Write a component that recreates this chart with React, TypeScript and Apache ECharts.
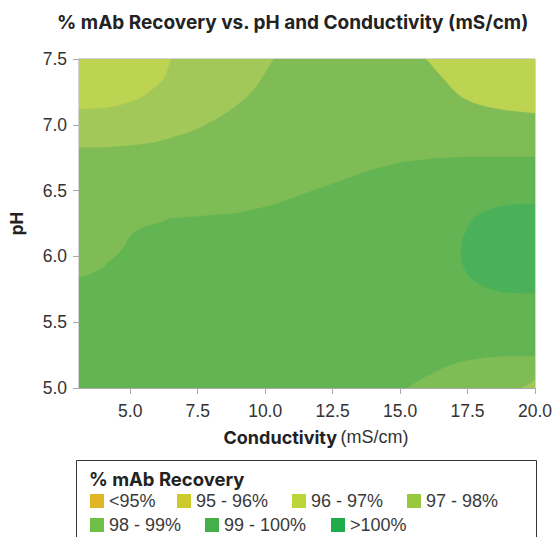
import React, { useEffect, useRef } from "react";
import * as echarts from "echarts";

const titleText = "% mAb Recovery vs. pH and Conductivity (mS/cm)";
const legendTitle = "% mAb Recovery";
const xTicks = [5, 7.5, 10, 12.5, 15, 17.5, 20];
const xMin = 3.1;
const xMax = 20;
const yMin = 5;
const yMax = 7.5;
const yStep = 0.5;

const bandLabels = ["<95%", "95 - 96%", "96 - 97%", "97 - 98%", "98 - 99%", "99 - 100%", ">100%"];
const bandColors = ["#e2b623", "#cdca2b", "#bcd539", "#98c83e", "#6ebf46", "#43b04a", "#21ac4b"];
// fill tones as they appear in the contour plot
const bandFills = ["#e6c45a", "#d2cf55", "#bdd352", "#a3c85a", "#80bc55", "#62b552", "#4bb05a"];

// contour regions in data coordinates [conductivity, pH], painted in order
const regionBase = [[3.1, 5.0], [20, 5.0], [20, 7.5], [3.1, 7.5]];
const regionUpper = [
  [3.1, 5.84], [3.1, 7.5], [20, 7.5], [20, 6.76], [17.55, 6.76], [16.35, 6.75], [15.1, 6.72],
  [13.9, 6.66], [12.7, 6.57], [11.45, 6.48], [10.4, 6.40], [9.6, 6.36], [8.9, 6.33], [7.7, 6.31],
  [6.45, 6.29], [6.1, 6.26], [5.5, 6.23], [5.1, 6.18], [4.9, 6.13], [4.75, 6.07], [4.55, 6.02],
  [4.38, 5.99], [4.2, 5.96], [4.0, 5.92], [3.55, 5.87], [3.1, 5.84],
];
const regionTopBand = [
  [3.1, 6.83], [4.0, 6.83], [5.2, 6.85], [5.9, 6.87], [6.45, 6.9], [7.1, 6.94], [7.67, 6.99],
  [8.3, 7.06], [8.88, 7.14], [9.3, 7.21], [9.65, 7.29], [9.95, 7.38], [10.15, 7.45], [10.3, 7.5],
  [3.1, 7.5],
];
const regionTopLeft = [
  [3.1, 7.12], [4.0, 7.13], [4.6, 7.15], [5.2, 7.19], [5.5, 7.22], [5.75, 7.26], [6.0, 7.3],
  [6.2, 7.34], [6.32, 7.39], [6.42, 7.45], [6.5, 7.5], [3.1, 7.5],
];
const regionTopRight = [
  [15.97, 7.5], [16.15, 7.46], [16.35, 7.41], [16.7, 7.33], [17.0, 7.26], [17.3, 7.21],
  [17.7, 7.17], [18.2, 7.14], [19.0, 7.11], [20, 7.09], [20, 7.5],
];
const regionRightBlob = [
  [20, 6.4], [19.0, 6.39], [18.5, 6.37], [18.1, 6.34], [17.75, 6.29], [17.5, 6.22], [17.32, 6.13],
  [17.25, 6.04], [17.3, 5.95], [17.45, 5.88], [17.7, 5.82], [18.1, 5.77], [18.8, 5.73], [20, 5.72],
];
const regionBottomRight = [
  [15.3, 5.0], [15.5, 5.03], [15.75, 5.06], [16.1, 5.1], [16.6, 5.15], [17.1, 5.19], [17.55, 5.21],
  [18.2, 5.23], [18.8, 5.24], [20, 5.24], [20, 5.0],
];
const regionCorner = [[19.5, 5.0], [19.8, 5.03], [20, 5.06], [20, 5.0]];

const regions = [
  { points: regionBase, band: 5 },
  { points: regionUpper, band: 4 },
  { points: regionTopBand, band: 3 },
  { points: regionTopLeft, band: 2 },
  { points: regionTopRight, band: 2 },
  { points: regionRightBlob, band: 6 },
  { points: regionBottomRight, band: 4 },
  { points: regionCorner, band: 3 },
];

const legendRows = [[0, 1, 2, 3], [4, 5, 6]];
const legendItemX = [[90, 177, 292, 407], [90, 205, 331]];

export default function App() {
  const ref = useRef<HTMLDivElement>(null);
  useEffect(() => {
    if (!ref.current) return;
    const chart = echarts.init(ref.current, null, { renderer: "svg" });
    const axisColor = "#a9a9a9";
    const labelFont = "'Liberation Sans', Arial, sans-serif";
    const boldFont = "Inter, 'Noto Sans', sans-serif";

    const legendGraphics: any[] = [
      {
        type: "rect",
        shape: { x: 76.5, y: 460.5, width: 460, height: 100 },
        style: { fill: "#fff", stroke: "#333", lineWidth: 1 },
      },
      {
        type: "text",
        x: 89,
        y: 479,
        style: {
          text: legendTitle,
          fontFamily: boldFont,
          fontWeight: 700,
          fontSize: 18.5,
          fill: "#222",
          verticalAlign: "middle",
        },
      },
    ];
    legendRows.forEach((row, ri) => {
      const cy = ri === 0 ? 501 : 525;
      row.forEach((bi, ci) => {
        const x = legendItemX[ri][ci];
        legendGraphics.push({
          type: "rect",
          shape: { x, y: cy - 7, width: 14, height: 14 },
          style: { fill: bandColors[bi] },
        });
        legendGraphics.push({
          type: "text",
          x: x + 19,
          y: cy,
          style: {
            text: bandLabels[bi],
            fontFamily: labelFont,
            fontSize: 18,
            fill: "#3a3a3a",
            verticalAlign: "middle",
          },
        });
      });
    });

    chart.setOption({
      animation: false,
      title: {
        text: titleText,
        left: 52,
        top: 8,
        textStyle: { fontFamily: boldFont, fontWeight: 700, fontSize: 19, color: "#222" },
      },
      grid: { left: 75, right: 22, top: 59, bottom: 149, show: true, borderColor: axisColor, borderWidth: 1 },
      xAxis: {
        type: "value",
        min: xMin,
        max: xMax,
        name: "{b|Conductivity} {n|(mS/cm)}",
        nameLocation: "middle",
        nameGap: 40,
        nameTextStyle: {
          padding: [0, 0, 0, 18],
          rich: {
            b: { fontFamily: boldFont, fontWeight: 700, fontSize: 18, color: "#222" },
            n: { fontFamily: labelFont, fontSize: 18, color: "#333" },
          },
        },
        axisLine: { show: true, lineStyle: { color: axisColor } },
        axisTick: { show: true, length: 6, lineStyle: { color: axisColor }, customValues: xTicks },
        axisLabel: {
          customValues: xTicks,
          formatter: (v: number) => v.toFixed(1),
          fontFamily: labelFont,
          fontSize: 17.5,
          color: "#333",
          margin: 14,
        },
        splitLine: { show: false },
      },
      yAxis: {
        type: "value",
        min: yMin,
        max: yMax,
        interval: yStep,
        name: "pH",
        nameLocation: "middle",
        nameGap: 54,
        nameTextStyle: { fontFamily: boldFont, fontWeight: 700, fontSize: 17, color: "#222" },
        axisLine: { show: true, lineStyle: { color: axisColor } },
        axisTick: { show: true, length: 6, lineStyle: { color: axisColor } },
        axisLabel: {
          formatter: (v: number) => v.toFixed(1),
          fontFamily: labelFont,
          fontSize: 17.5,
          color: "#333",
          margin: 12,
        },
        splitLine: { show: false },
      },
      series: [
        {
          type: "custom",
          clip: true,
          data: regions.map((r) => r.points[0]),
          renderItem: (params: any, api: any) => {
            const r = regions[params.dataIndex];
            const pts = r.points.map((p) => api.coord(p));
            const c = bandFills[r.band];
            return {
              type: "polygon",
              shape: { points: pts },
              style: { fill: c, stroke: c, lineWidth: 0.5 },
            };
          },
          z: 1,
        },
      ],
      graphic: legendGraphics,
    });
    return () => chart.dispose();
  }, []);
  return (
    <div
      ref={ref}
      style={{ position: "absolute", left: 0, top: 0, width: 557, height: 537 }}
    />
  );
}
